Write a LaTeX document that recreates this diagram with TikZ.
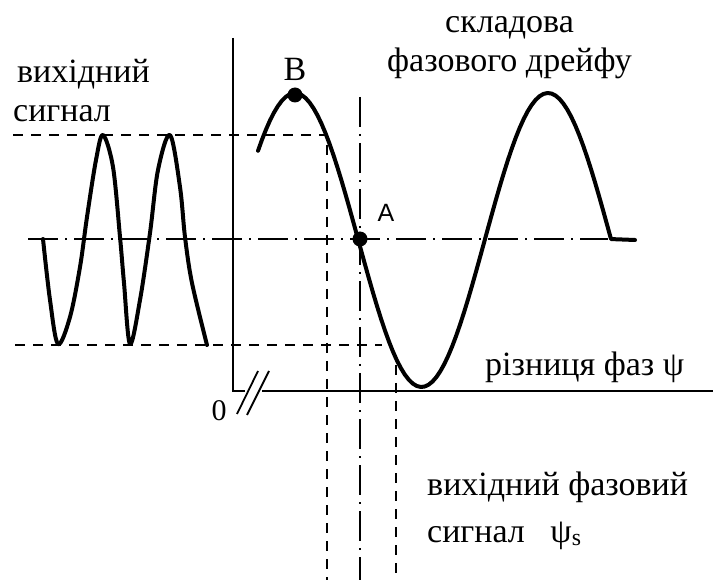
\documentclass[tikz,border=0pt]{standalone}
\usepackage{fontspec}
\setmainfont{Liberation Serif}
\newfontfamily\sansA{Liberation Sans}
\usetikzlibrary{positioning, calc}

\tikzset{
    curve/.style={line width=4pt, line cap=round, line join=round},
    axis/.style={line width=1.8pt},
    guide/.style={line width=2pt, dash pattern=on 10pt off 8pt},
    guidedot/.style={line width=2pt, dash pattern=on 30pt off 7pt on 2pt off 7pt},
    label/.style={font=\fontsize{34}{38}\selectfont, anchor=base west, inner sep=0pt},
    point/.style={circle, fill=black, inner sep=0pt, minimum size=15pt},
}

\begin{document}
\begin{tikzpicture}[x=1pt, y=-1pt]
    \useasboundingbox (0,0) rectangle (713,580);

    % axes with the break mark
    \coordinate (top) at (233,38);
    \coordinate (O) at (233,391);
    \coordinate (brk) at (245,391);
    \coordinate (brk2) at (262,391);
    \coordinate (end) at (713,391);
    \draw[axis] (top) -- (O) -- (brk);
    \draw[axis] (brk2) -- (end);
    \draw[axis] (237,414) -- (258,371);
    \draw[axis] (247,415) -- (269,371);
    \node[font=\fontsize{30}{32}\selectfont, inner sep=0pt] (zero) at (219,411) {0};

    % guide lines
    \draw[guide] (13,135) -- (327,135) -- (327,580);
    \draw[guide] (15,345) -- (382,345);
    \draw[guide] (396,365) -- (396,580);
    \draw[guidedot] (28,239) -- (608,239);
    \draw[guidedot] (360,97) -- (360,580);

    % output signal (left)
    \draw[curve] plot[smooth, tension=0.55] coordinates {
        (43,239) (50,300) (58,344) (70,317) (80,267) (87,217) (96,160) (103,135)
        (113,167) (120,237) (124,283) (130,344) (140,300) (150,233) (158,170) (170,135)
        (180,187) (185,237) (192,283) (207,345)};

    % phase drift component
    \draw[curve] plot[domain=258:611, samples=90] (\x, {240-147*cos(1.42292*(\x-295))})
        -- (635,240);

    \node[point] (B) at (295,95) {};
    \node[point] (A) at (360,239) {};
    \node[font=\fontsize{34}{36}\selectfont, above=3pt of B] (labB) {B};
    \node[font=\sansA\fontsize{25}{28}\selectfont, inner sep=0pt] (labA) at (386,213) {A};

    % texts
    \node[label] (out1) at (17,83) {вихідний};
    \node[label] (out2) at (13,122) {сигнал};
    \node[label] (drift1) at (445,33) {складова};
    \node[label] (drift2) at (387,72) {фазового дрейфу};
    \node[label] (phase) at (485,375) {різниця фаз ψ};
    \node[label] (res1) at (427,495) {вихідний фазовий};
    \node[label] (res2) at (427,542) {сигнал \ \ ψ\textsubscript{s}};
\end{tikzpicture}
\end{document}
